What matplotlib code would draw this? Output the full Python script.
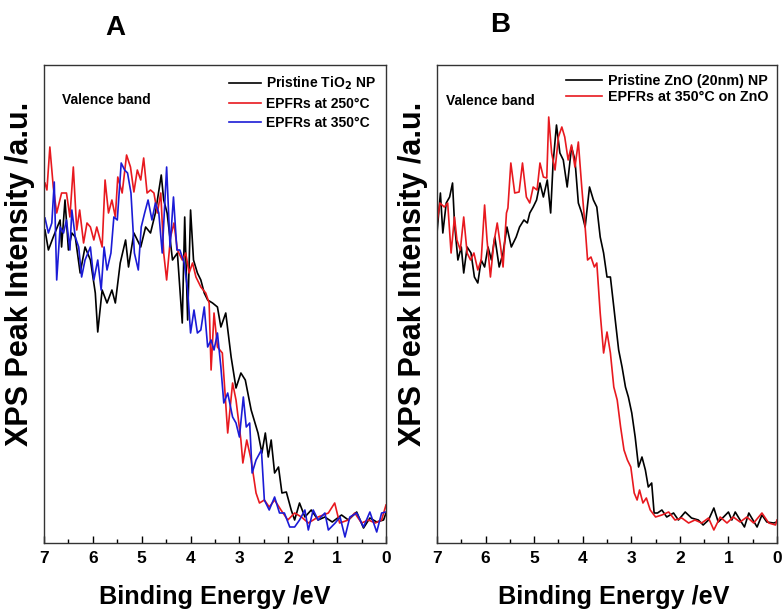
import matplotlib
matplotlib.use("Agg")
import matplotlib.pyplot as plt
from matplotlib.ticker import MultipleLocator

plt.rcParams['font.family'] = ['Liberation Sans', 'DejaVu Sans']
plt.rcParams['font.weight'] = 'bold'

# ---- panel A : TiO2 ----
a_black_E = [6.98, 6.91, 6.81, 6.67, 6.64, 6.57, 6.50, 6.43, 6.36, 6.26, 6.16, 6.05, 5.95, 5.90,
             5.81, 5.71, 5.61, 5.54, 5.44, 5.33, 5.27, 5.16, 5.02, 4.92, 4.82, 4.72, 4.60, 4.55,
             4.48, 4.37, 4.27, 4.17, 4.12, 4.06, 4.00, 3.94, 3.86, 3.79, 3.72, 3.65, 3.55, 3.45,
             3.38, 3.28, 3.17, 3.07, 2.97, 2.88, 2.76, 2.62, 2.54, 2.47, 2.41, 2.35, 2.28, 2.20,
             2.13, 2.04, 1.94, 1.87, 1.77, 1.66, 1.53, 1.39, 1.25, 1.10, 0.91, 0.77, 0.60, 0.46,
             0.33, 0.19, 0.05, 0.0]
a_black_I = [313, 293, 306, 323, 296, 343, 293, 310, 306, 270, 296, 283, 250, 211,
             253, 240, 253, 240, 280, 303, 276, 310, 296, 316, 310, 330, 368, 343,
             330, 283, 290, 220, 326, 223, 333, 283, 270, 263, 250, 243, 240, 236,
             216, 230, 186, 155, 170, 163, 133, 110, 90, 110, 86, 103, 70, 76,
             50, 51, 33, 23, 40, 26, 33, 23, 26, 21, 28, 23, 31, 15,
             25, 21, 23, 30]

a_red_E = [6.98, 6.94, 6.88, 6.81, 6.74, 6.64, 6.54, 6.47, 6.40, 6.33, 6.27, 6.19, 6.12, 6.05,
           5.98, 5.92, 5.81, 5.75, 5.68, 5.61, 5.54, 5.49, 5.40, 5.31, 5.23, 5.16, 5.09, 5.02,
           4.96, 4.89, 4.82, 4.75, 4.68, 4.61, 4.55, 4.49, 4.41, 4.34, 4.27, 4.17, 4.10, 4.03,
           3.96, 3.89, 3.79, 3.69, 3.62, 3.58, 3.52, 3.45, 3.35, 3.24, 3.14, 3.07, 2.97, 2.93,
           2.85, 2.76, 2.66, 2.59, 2.49, 2.39, 2.28, 2.15, 2.01, 1.87, 1.73, 1.59, 1.39, 1.18,
           1.05, 0.95, 0.77, 0.64, 0.50, 0.36, 0.22, 0.09, 0.0]
a_red_I = [360, 353, 396, 356, 330, 350, 350, 326, 376, 313, 333, 300, 320, 316,
           303, 316, 296, 363, 330, 343, 326, 366, 350, 388, 376, 351, 373, 363,
           385, 350, 353, 350, 330, 350, 290, 263, 306, 320, 293, 283, 290, 270,
           280, 266, 256, 250, 240, 173, 230, 196, 190, 110, 160, 143, 103, 80,
           103, 83, 50, 40, 43, 36, 43, 33, 23, 30, 26, 20, 26, 30,
           40, 20, 23, 30, 20, 23, 20, 23, 38]

a_blue_E = [6.98, 6.91, 6.84, 6.79, 6.74, 6.67, 6.60, 6.54, 6.47, 6.43, 6.36, 6.29, 6.23, 6.16,
            6.05, 5.98, 5.90, 5.83, 5.77, 5.71, 5.63, 5.57, 5.50, 5.42, 5.35, 5.29, 5.22, 5.15,
            5.07, 5.01, 4.94, 4.87, 4.79, 4.72, 4.65, 4.58, 4.49, 4.42, 4.35, 4.28, 4.22, 4.13,
            4.06, 4.00, 3.93, 3.86, 3.79, 3.72, 3.65, 3.58, 3.52, 3.45, 3.38, 3.32, 3.24, 3.14,
            3.07, 3.00, 2.92, 2.86, 2.79, 2.74, 2.66, 2.55, 2.49, 2.39, 2.28, 2.18, 2.08, 1.97,
            1.87, 1.77, 1.66, 1.59, 1.49, 1.39, 1.25, 1.18, 1.04, 0.94, 0.84, 0.74, 0.60, 0.46,
            0.33, 0.19, 0.09, 0.0]
a_blue_I = [325, 310, 320, 361, 263, 316, 310, 323, 293, 333, 306, 296, 266, 283,
            296, 263, 283, 253, 296, 273, 290, 326, 323, 380, 373, 370, 350, 290,
            273, 316, 330, 343, 323, 340, 330, 290, 376, 296, 346, 293, 293, 280,
            253, 210, 233, 210, 213, 236, 196, 203, 193, 210, 176, 140, 150, 126,
            120, 106, 146, 116, 120, 70, 83, 93, 43, 33, 46, 30, 30, 16,
            16, 23, 33, 13, 33, 23, 30, 13, 20, 26, 6, 26, 30, 16,
            31, 11, 30, 31]

# ---- panel B : ZnO ----
b_black_E = [7.00, 6.93, 6.88, 6.81, 6.74, 6.68, 6.64, 6.57, 6.50, 6.45, 6.38, 6.30, 6.23, 6.16,
             6.09, 6.02, 5.95, 5.88, 5.81, 5.72, 5.64, 5.56, 5.47, 5.37, 5.30, 5.21, 5.14, 5.09,
             5.02, 4.95, 4.88, 4.81, 4.73, 4.66, 4.61, 4.54, 4.47, 4.40, 4.32, 4.23, 4.16, 4.09,
             4.02, 3.95, 3.86, 3.78, 3.71, 3.64, 3.57, 3.50, 3.43, 3.36, 3.33, 3.26, 3.19, 3.12,
             3.06, 2.99, 2.92, 2.85, 2.78, 2.71, 2.65, 2.58, 2.53, 2.46, 2.37, 2.27, 2.13, 2.03,
             1.89, 1.76, 1.62, 1.52, 1.41, 1.30, 1.21, 1.10, 1.00, 0.93, 0.86, 0.76, 0.67, 0.58,
             0.52, 0.41, 0.31, 0.21, 0.07, 0.0]
b_black_I = [310, 350, 310, 340, 346, 360, 320, 283, 296, 270, 296, 290, 266, 260,
             283, 276, 296, 283, 306, 276, 290, 316, 296, 306, 316, 323, 320, 330,
             336, 343, 360, 346, 363, 330, 380, 418, 390, 383, 356, 396, 383, 340,
             330, 316, 356, 343, 336, 306, 290, 266, 266, 236, 223, 193, 176, 156,
             146, 130, 106, 76, 86, 73, 56, 60, 30, 30, 33, 26, 30, 23,
             31, 25, 23, 18, 23, 35, 21, 26, 31, 23, 31, 23, 16, 30,
             25, 16, 28, 21, 20, 21]

b_red_E = [7.00, 6.94, 6.85, 6.78, 6.71, 6.64, 6.59, 6.52, 6.45, 6.38, 6.31, 6.24, 6.16, 6.09,
           6.02, 5.97, 5.90, 5.83, 5.76, 5.69, 5.64, 5.57, 5.54, 5.48, 5.40, 5.31, 5.24, 5.16,
           5.09, 5.02, 4.94, 4.88, 4.81, 4.74, 4.70, 4.64, 4.57, 4.50, 4.43, 4.37, 4.30, 4.23,
           4.16, 4.09, 4.02, 3.95, 3.90, 3.83, 3.76, 3.71, 3.64, 3.57, 3.50, 3.43, 3.36, 3.29,
           3.22, 3.15, 3.08, 3.01, 2.94, 2.88, 2.83, 2.76, 2.69, 2.61, 2.50, 2.37, 2.23, 2.10,
           1.96, 1.82, 1.69, 1.55, 1.41, 1.30, 1.17, 1.03, 0.90, 0.76, 0.62, 0.48, 0.31, 0.17,
           0.03, 0.0]
b_red_I = [320, 340, 336, 340, 290, 326, 303, 293, 326, 290, 283, 290, 273, 283,
           338, 303, 266, 300, 320, 296, 276, 330, 335, 380, 350, 351, 380, 346,
           340, 356, 353, 380, 366, 365, 426, 390, 373, 406, 416, 406, 383, 398,
           376, 401, 356, 316, 283, 286, 276, 280, 230, 190, 211, 190, 156, 143,
           116, 93, 83, 76, 50, 43, 53, 40, 45, 33, 26, 28, 31, 23,
           25, 20, 23, 20, 25, 13, 26, 20, 26, 21, 26, 20, 30, 20,
           18, 23]

fig = plt.figure(figsize=(7.82, 6.14), dpi=100)
ax1 = fig.add_axes([44 / 782, 71 / 614, 342 / 782, 478 / 614])
ax2 = fig.add_axes([437 / 782, 71 / 614, 340 / 782, 478 / 614])

ax1.plot(a_black_E, a_black_I, color='black', lw=1.2, label='Pristine TiO$_\\mathbf{2}$ NP')
ax1.plot(a_red_E, a_red_I, color='#e8191f', lw=1.2, label='EPFRs at 250°C')
ax1.plot(a_blue_E, a_blue_I, color='#1b1bd6', lw=1.2, label='EPFRs at 350°C')

ax2.plot(b_black_E, b_black_I, color='black', lw=1.2, label='Pristine ZnO (20nm) NP')
ax2.plot(b_red_E, b_red_I, color='#e8191f', lw=1.2, label='EPFRs at 350°C on ZnO')

for ax in (ax1, ax2):
    ax.set_xlim(7, 0)
    ax.set_ylim(0, 478)
    ax.set_yticks([])
    ax.xaxis.set_major_locator(MultipleLocator(1))
    ax.xaxis.set_minor_locator(MultipleLocator(0.5))
    ax.tick_params(axis='x', which='major', direction='in', length=5, width=1, labelsize=12.5, pad=6)
    ax.tick_params(axis='x', which='minor', direction='in', length=3, width=1)
    for lab in ax.get_xticklabels():
        lab.set_fontweight('bold')
    for sp in ax.spines.values():
        sp.set_linewidth(1.0)
        sp.set_color('#333333')
    ax.set_xlabel('Binding Energy /eV', fontsize=18.2, fontweight='bold')
    ax.set_ylabel('XPS Peak Intensity /a.u.', fontsize=22, fontweight='bold')

ax1.xaxis.set_label_coords(0.5, -0.088)
ax2.xaxis.set_label_coords(0.52, -0.088)
ax1.yaxis.set_label_coords(-0.027, 0.563)
ax2.yaxis.set_label_coords(-0.027, 0.563)

ax1.text(0.052, 0.927, 'Valence band', transform=ax1.transAxes, fontsize=10,
         fontweight='bold', va='center')
ax2.text(0.027, 0.925, 'Valence band', transform=ax2.transAxes, fontsize=10,
         fontweight='bold', va='center')

ax1.legend(loc='upper right', frameon=False, handlelength=2.3,
           handletextpad=0.4, labelspacing=0.35, borderaxespad=0.3,
           prop={'weight': 'bold', 'size': 10})
ax2.legend(loc='upper right', frameon=False, handlelength=2.5,
           handletextpad=0.4, labelspacing=0.2, borderaxespad=0.2,
           prop={'weight': 'bold', 'size': 10.3})

fig.text(115 / 782, 1 - 28 / 614, 'A', fontsize=20, fontweight='bold', ha='center', va='center')
fig.text(500 / 782, 1 - 25 / 614, 'B', fontsize=20, fontweight='bold', ha='center', va='center')

fig.savefig('out.png', dpi=100)
